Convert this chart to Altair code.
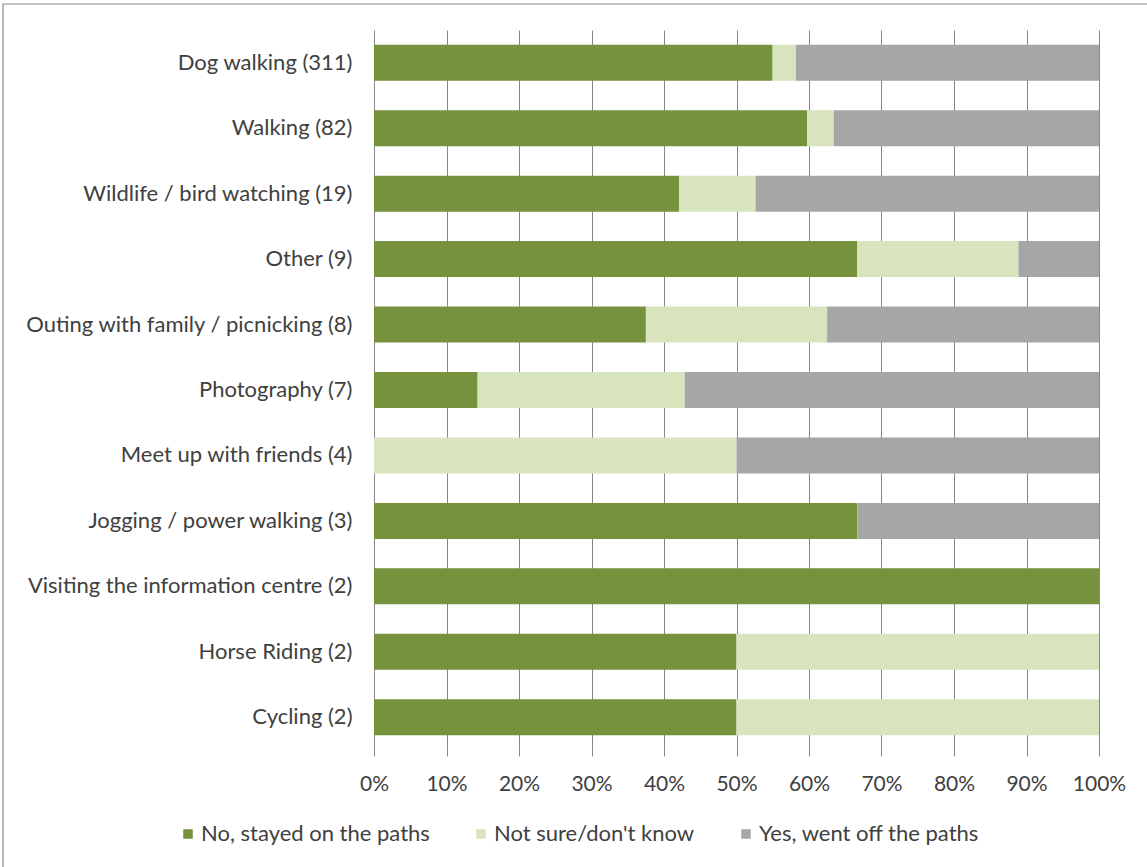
import altair as alt
import pandas as pd

categories = [
    "Dog walking (311)",
    "Walking (82)",
    "Wildlife / bird watching (19)",
    "Other (9)",
    "Outing with family / picnicking (8)",
    "Photography (7)",
    "Meet up with friends (4)",
    "Jogging / power walking (3)",
    "Visiting the information centre (2)",
    "Horse Riding (2)",
    "Cycling (2)",
]
series = ["No, stayed on the paths", "Not sure/don't know", "Yes, went off the paths"]
no_counts = [171, 49, 8, 6, 3, 1, 0, 2, 2, 1, 1]
unsure_counts = [10, 3, 2, 2, 2, 2, 2, 0, 0, 1, 1]
yes_counts = [130, 30, 9, 1, 3, 4, 2, 1, 0, 0, 0]
tick_values = [0, 0.1, 0.2, 0.3, 0.4, 0.5, 0.6, 0.7, 0.8, 0.9, 1.0]
colors = ["#76923C", "#D7E4BD", "#A6A6A6"]

rows = []
for i, c in enumerate(categories):
    for j, (s, vals) in enumerate(zip(series, [no_counts, unsure_counts, yes_counts])):
        rows.append({"activity": c, "response": s, "count": vals[i], "order": j})
df = pd.DataFrame(rows)

FONT = "Lato"
TXT = "#404040"

bars = alt.Chart(df).mark_bar().encode(
    y=alt.Y("activity:N", sort=categories,
            scale=alt.Scale(paddingInner=0.45, paddingOuter=0.225),
            axis=alt.Axis(title=None, domain=False, ticks=False, grid=False,
                          labelFont=FONT, labelFontSize=22, labelColor=TXT,
                          labelPadding=22, labelLimit=400)),
    x=alt.X("count:Q", stack="normalize",
            scale=alt.Scale(domain=[0, 1], nice=False),
            axis=alt.Axis(title=None, values=tick_values, format=".0%",
                          domain=False, ticks=True, tickSize=6, tickColor="#868686",
                          grid=True, gridColor="#868686", gridWidth=1,
                          labelFont=FONT, labelFontSize=21, labelColor=TXT,
                          labelPadding=17, labelOverlap=False, labelFlush=False)),
    color=alt.Color("response:N", sort=series,
                    scale=alt.Scale(domain=series, range=colors),
                    legend=alt.Legend(title=None, orient="none", direction="horizontal",
                                      legendX=-197, legendY=793,
                                      symbolType="square", symbolSize=90,
                                      symbolStrokeWidth=0, labelFont=FONT,
                                      labelFontSize=22, labelColor=TXT, labelLimit=400,
                                      labelOffset=2, columnPadding=40, padding=0)),
    order=alt.Order("order:Q"),
)

frame = alt.Chart(pd.DataFrame({"k": [0]})).mark_rect(
    fill="white", fillOpacity=0, stroke="#8c8c8c", strokeWidth=1.2
).encode(
    x=alt.value(-371), x2=alt.value(1147 - 374 + 5),
    y=alt.value(-26), y2=alt.value(867 - 30 + 5),
)

chart = alt.layer(bars, frame).properties(
    width=725, height=720,
    autosize=alt.AutoSizeParams(type="none"),
    padding={"left": 374, "top": 30, "right": 48, "bottom": 117},
    background="white",
).configure_view(stroke=None)

chart.save("out.html", embed_options={"renderer": "svg", "actions": False})
